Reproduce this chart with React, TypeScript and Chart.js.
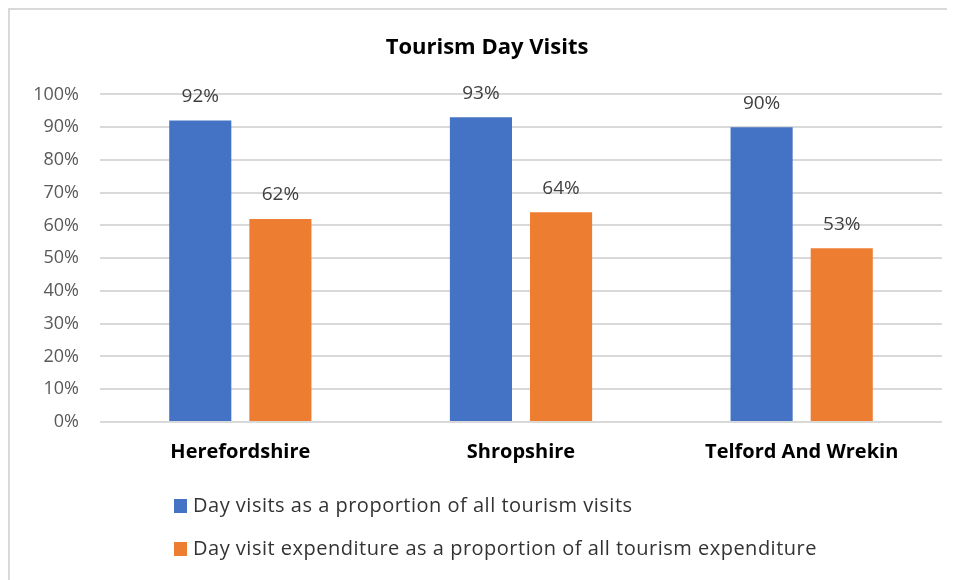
import React, { useEffect, useRef } from "react";
import { Chart, registerables } from "chart.js";

Chart.register(...registerables);

const categories = ["Herefordshire", "Shropshire", "Telford And Wrekin"];
const seriesNames = [
  "Day visits as a proportion of all tourism visits",
  "Day visit expenditure as a proportion of all tourism expenditure",
];
const dayVisits = [92, 93, 90];
const dayExpenditure = [62, 64, 53];
const seriesColors = ["#4472C4", "#ED7D31"];
const yTicksMax = 100;
const yTickStep = 10;

const FONT = "'Open Sans', sans-serif";

const dataLabelPlugin = {
  id: "dataLabels",
  afterDatasetsDraw(chart: any) {
    const ctx = chart.ctx;
    ctx.save();
    ctx.font = `19px ${FONT}`;
    ctx.fillStyle = "#404040";
    ctx.textAlign = "center";
    ctx.textBaseline = "middle";
    chart.data.datasets.forEach((ds: any, i: number) => {
      const meta = chart.getDatasetMeta(i);
      meta.data.forEach((bar: any, j: number) => {
        ctx.fillText(`${ds.data[j]}%`, bar.x, bar.y - 24);
      });
    });
    ctx.restore();
  },
};

const legendPlugin = {
  id: "customLegend",
  afterDraw(chart: any) {
    const ctx = chart.ctx;
    const area = chart.chartArea;
    ctx.save();
    ctx.font = `20px ${FONT}`;
    (ctx as any).letterSpacing = "0.5px";
    ctx.textBaseline = "middle";
    ctx.textAlign = "left";
    chart.data.datasets.forEach((ds: any, i: number) => {
      const y = area.bottom + 84 + i * 43;
      const x = area.left + 74;
      ctx.fillStyle = ds.backgroundColor;
      ctx.fillRect(x, y - 7, 13, 14);
      ctx.fillStyle = "#333333";
      ctx.fillText(ds.label, x + 19, y);
    });
    ctx.restore();
  },
};

export default function App() {
  const ref = useRef<HTMLCanvasElement>(null);
  useEffect(() => {
    if (!ref.current) return;
    const chart = new Chart(ref.current, {
      type: "bar",
      data: {
        labels: categories,
        datasets: [
          {
            label: seriesNames[0],
            data: dayVisits,
            backgroundColor: seriesColors[0],
            categoryPercentage: 0.571,
            barPercentage: 0.775,
          },
          {
            label: seriesNames[1],
            data: dayExpenditure,
            backgroundColor: seriesColors[1],
            categoryPercentage: 0.571,
            barPercentage: 0.775,
          },
        ],
      },
      options: {
        animation: false,
        responsive: false,
        layout: { padding: { left: 22, right: 13, top: 0, bottom: 98 } },
        plugins: {
          legend: { display: false },
          tooltip: { enabled: false },
          title: {
            display: true,
            text: "Tourism Day Visits",
            color: "#000000",
            font: { family: FONT, size: 22, weight: "bold", lineHeight: 1.2 },
            padding: { top: 25, bottom: 33 },
          },
        },
        scales: {
          x: {
            grid: { display: false, drawTicks: false },
            border: { display: false },
            ticks: {
              color: "#000000",
              padding: 18,
              font: { family: FONT, size: 20, weight: "bold", lineHeight: 1.2 },
            },
          },
          y: {
            min: 0,
            max: yTicksMax,
            afterFit(scale: any) {
              scale.width = 68;
            },
            grid: { color: "#d9d9d9", lineWidth: 2, drawTicks: false },
            border: { display: false },
            ticks: {
              stepSize: yTickStep,
              color: "#595959",
              padding: 21,
              font: { family: FONT, size: 18 },
              callback: (v: any) => `${v}%`,
            },
          },
        },
      },
      plugins: [dataLabelPlugin, legendPlugin],
    });
    return () => chart.destroy();
  }, []);
  return (
    <div
      style={{
        width: 947,
        height: 572,
        boxSizing: "border-box",
        borderTop: "2px solid #d9d9d9",
        borderLeft: "2px solid #d9d9d9",
        background: "#fff",
        overflow: "hidden",
      }}
    >
      <canvas ref={ref} width={945} height={570} style={{ display: "block" }} />
    </div>
  );
}
